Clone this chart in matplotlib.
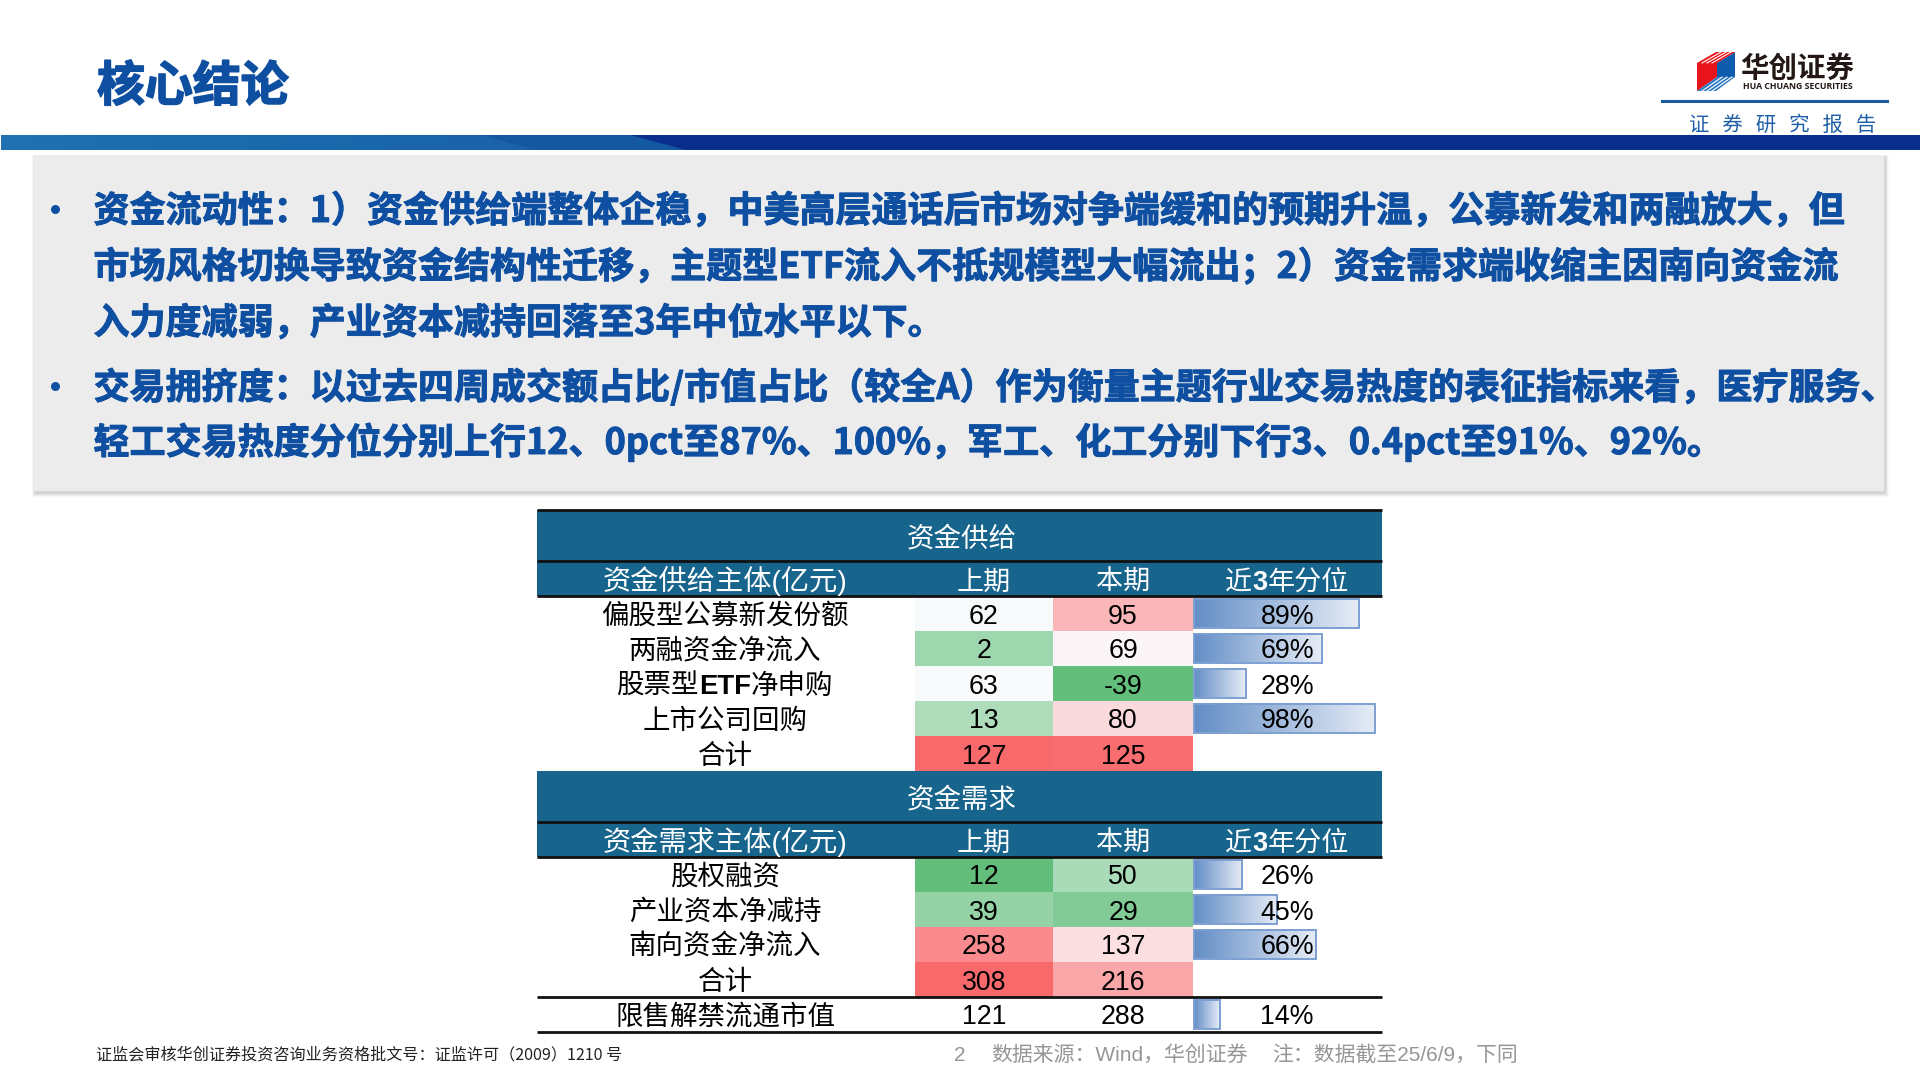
import numpy as np
import matplotlib
matplotlib.use("Agg")
import matplotlib.pyplot as plt
import matplotlib.patheffects as pe
from matplotlib.colors import LinearSegmentedColormap, TwoSlopeNorm
from matplotlib.patches import Rectangle, Polygon

CJK = ["Noto Sans CJK SC", "DejaVu Sans"]
MIXED = ["Liberation Sans", "Noto Sans CJK SC"]
plt.rcParams["font.family"] = CJK

# slide text
title = "核心结论"
report_tag = "证  券  研  究  报  告"
body_lines = [
    "资金流动性：1）资金供给端整体企稳，中美高层通话后市场对争端缓和的预期升温，公募新发和两融放大，但",
    "市场风格切换导致资金结构性迁移，主题型ETF流入不抵规模型大幅流出；2）资金需求端收缩主因南向资金流",
    "入力度减弱，产业资本减持回落至3年中位水平以下。",
    "交易拥挤度：以过去四周成交额占比/市值占比（较全A）作为衡量主题行业交易热度的表征指标来看，医疗服务、",
    "轻工交易热度分位分别上行12、0pct至87%、100%，军工、化工分别下行3、0.4pct至91%、92%。",
]
footer_left = "证监会审核华创证券投资咨询业务资格批文号：证监许可（2009）1210 号"
page_no = "2"
footer_source = "数据来源：Wind，华创证券"
footer_note = "注：数据截至25/6/9，下同"

# table data
col_heads = ["上期", "本期"]
supply_title = "资金供给"
supply_head = "资金供给主体(亿元)"
supply_names = ["偏股型公募新发份额", "两融资金净流入", "股票型ETF净申购", "上市公司回购", "合计"]
supply_prev = [62, 2, 63, 13, 127]
supply_curr = [95, 69, -39, 80, 125]
supply_pct = [89, 69, 28, 98, None]

demand_title = "资金需求"
demand_head = "资金需求主体(亿元)"
demand_names = ["股权融资", "产业资本净减持", "南向资金净流入", "合计"]
demand_prev = [12, 39, 258, 308]
demand_curr = [50, 29, 137, 216]
demand_pct = [26, 45, 66, None]

unlock_name = "限售解禁流通市值"
unlock_prev = 121
unlock_curr = 288
unlock_pct = 14

BLUE = "#0E4FA1"
HEAD = "#17648D"

fig = plt.figure(figsize=(19.2, 10.8), dpi=100, facecolor="white")
ax = fig.add_axes([0, 0, 1, 1])
ax.axis("off")


def text_px(x, y, s, size, **kw):
    # y is the baseline in pixels
    kw.setdefault("va", "baseline")
    return ax.text(x, y, s, fontsize=size, **kw)


def heavy(t, color, width):
    # source font is a fake bold, a thin stroke gets close
    t.set_path_effects([pe.withStroke(linewidth=width, foreground=color)])


def parts_px(xc, y, parts, size, color="black", family=MIXED):
    # one centred label with some parts in bold
    rend = fig.canvas.get_renderer()
    items = [ax.text(0, y, s, fontsize=size, color=color, family=family, weight=w, va="baseline", zorder=5)
             for s, w in parts]
    widths = [t.get_window_extent(rend).width for t in items]
    x = xc - sum(widths) / 2
    for t, w in zip(items, widths):
        t.set_x(x)
        x += w


# top band: light left part, then a slanted edge into the dark part
band_map = LinearSegmentedColormap.from_list(
    "band", [(0, "#2072B0"), (0.35, "#1B6AAC"), (0.75, "#1A62A9"), (1, "#17589F")])
ax.imshow(np.linspace(0, 1, 512).reshape(1, -1), cmap=band_map, extent=(1, 700, 150, 135), aspect="auto", zorder=1)
ax.add_patch(Polygon([(480, 135), (630, 135), (686, 150), (536, 150)], fc="#1558A2", ec="none", zorder=1.1))
ax.add_patch(Polygon([(630, 135), (1920, 135), (1920, 150), (686, 150)], fc="#0A2E8E", ec="none", zorder=1.2))

# grey panel with soft shadow
for i in range(7, 0, -1):
    ax.add_patch(Rectangle((34 - i * 0.4 + 1, 155 - i * 0.3 + 2), 1850 + i * 0.9, 336 + i * 0.8,
                           fc="black", ec="none", alpha=0.025, zorder=2))
ax.add_patch(Rectangle((34, 155), 1850, 336, fc="#ECECEC", ec="none", zorder=3))

# title and logo
t = text_px(97, 101, title, 34.5, color=BLUE, weight="bold")
heavy(t, BLUE, 1.2)
ax.plot([1662, 1887], [101, 101], color="#1B5A9E", lw=2.2, zorder=2)
text_px(1782.5, 131, report_tag, 14.7, color="#1F5FA8", ha="center", family=["DejaVu Sans", "Noto Sans CJK SC"])
text_px(1797, 77, "华创证券", 20.5, color="#231815", ha="center", weight="bold")
text_px(1797.5, 89, "HUA CHUANG SECURITIES", 6.3, color="#231815", ha="center", weight="bold", family="Open Sans")
ax.add_patch(Polygon([(1697, 63), (1717, 63), (1717, 77), (1697, 91)], fc="#E8141C", ec="none"))
ax.add_patch(Polygon([(1717, 63), (1735, 52), (1735, 77), (1717, 77)], fc="#0F5BAE", ec="none"))
ax.add_patch(Polygon([(1697, 63), (1716, 52), (1735, 52), (1717, 63)], fc="#E8141C", ec="none"))
ax.add_patch(Polygon([(1697, 91), (1717, 77), (1735, 77), (1716, 91)], fc="#2F7AC4", ec="none"))
for k in range(1, 4):
    ax.plot([1697 + k * 5, 1716 + k * 5], [63, 52], color="white", lw=0.8, zorder=3)
    ax.plot([1697 + k * 5, 1717 + k * 5], [91, 77], color="white", lw=0.8, zorder=3)

# body text
line_y = [222, 278, 334, 399, 454]
for yy, s in zip(line_y, body_lines):
    t = text_px(93.5, yy, s, 25.95, color=BLUE, weight="bold", zorder=5)
    heavy(t, BLUE, 0.7)
for yy in [209, 386]:
    ax.scatter([55], [yy], s=42, color=BLUE, zorder=5, linewidths=0)

# table
X0, X1 = 537, 1382
C1, C2, C3 = 915, 1053, 1193
COLD = "#63BE7B"
heat_map = LinearSegmentedColormap.from_list("heat", [COLD, "#FCFCFF", "#F8696B"])
ROW = 35
BAR_SCALE = 1.85
bar_map = LinearSegmentedColormap.from_list("bar", ["#638EC6", "#E6ECF6"])


def band_block(y0, big, head, top_line=True):
    ax.add_patch(Rectangle((X0, y0), X1 - X0, 86, fc=HEAD, ec="none", zorder=2))
    text_px((X0 + X1) / 2 + 2, y0 + 37, big, 19.8, color="white", ha="center", zorder=5)
    parts_px(725, y0 + 80, [(head, "normal")], 20.3, color="white")
    text_px(984, y0 + 80, col_heads[0], 19.5, color="white", ha="center", zorder=5)
    text_px(1123, y0 + 80, col_heads[1], 19.5, color="white", ha="center", zorder=5)
    parts_px(1287, y0 + 80, [("近", "normal"), ("3", "bold"), ("年分位", "normal")], 19.5, color="white")
    lines = [y0 + 51, y0 + 86]
    if top_line:
        lines.append(y0)
    for yy in lines:
        ax.plot([X0, X1], [yy, yy], color="#111111", lw=2, zorder=3, solid_capstyle="butt")


def data_row(y0, name, prev, curr, pct, norm=None):
    base = y0 + 28
    if "ETF" in name:
        a, b = name.split("ETF")
        parts_px(725, base, [(a, "normal"), ("ETF", "bold"), (b, "normal")], 19.8)
    else:
        text_px(725, base, name, 19.8, color="black", ha="center", zorder=5)
    for xl, xr, v in [(C1, C2, prev), (C2, C3, curr)]:
        if norm is not None:
            ax.add_patch(Rectangle((xl, y0), xr - xl, ROW, fc=heat_map(norm(v)), ec="none", zorder=2))
        text_px((xl + xr) / 2, y0 + 27.5, str(v), 19.3, color="black", ha="center", family=MIXED, zorder=5)
    if pct is not None:
        w = pct * BAR_SCALE
        ax.imshow(np.linspace(0, 1, 128).reshape(1, -1), cmap=bar_map, vmin=0, vmax=1,
                  extent=(C3 + 1, C3 + 1 + w, y0 + 31.5, y0 + 2.5), aspect="auto", zorder=3)
        ax.add_patch(Rectangle((C3 + 1, y0 + 2.5), w, 29, fc="none", ec="#7C9FD2", lw=1.4, zorder=4))
        text_px(1314, y0 + 27.5, f"{pct}%", 19.3, color="black", ha="right", family=MIXED, zorder=5)


# supply block, colour scale is centred on the median like the source sheet
vals = supply_prev + supply_curr
s_norm = TwoSlopeNorm(vmin=min(vals), vcenter=np.median(vals), vmax=max(vals))
band_block(510, supply_title, supply_head)
for i in range(len(supply_names)):
    data_row(596 + i * ROW, supply_names[i], supply_prev[i], supply_curr[i], supply_pct[i], s_norm)

# demand block
vals = demand_prev + demand_curr
d_norm = TwoSlopeNorm(vmin=min(vals), vcenter=np.median(vals), vmax=max(vals))
band_block(771, demand_title, demand_head, top_line=False)
for i in range(len(demand_names)):
    data_row(857 + i * ROW, demand_names[i], demand_prev[i], demand_curr[i], demand_pct[i], d_norm)

# unlock row
data_row(997, unlock_name, unlock_prev, unlock_curr, unlock_pct)
for yy in [997, 1032]:
    ax.plot([X0, X1], [yy, yy], color="#111111", lw=2, zorder=6, solid_capstyle="butt")

# footer
text_px(96.5, 1059, footer_left, 11.6, color="#222222")
text_px(954, 1061, page_no, 15, color="#969696", family=MIXED)
text_px(991, 1061, footer_source, 15, color="#969696", family=MIXED)
text_px(1272, 1061, footer_note, 15, color="#969696", family=MIXED)

ax.set_xlim(0, 1920)
ax.set_ylim(1080, 0)
fig.savefig("out.png", dpi=100)
plt.close(fig)
